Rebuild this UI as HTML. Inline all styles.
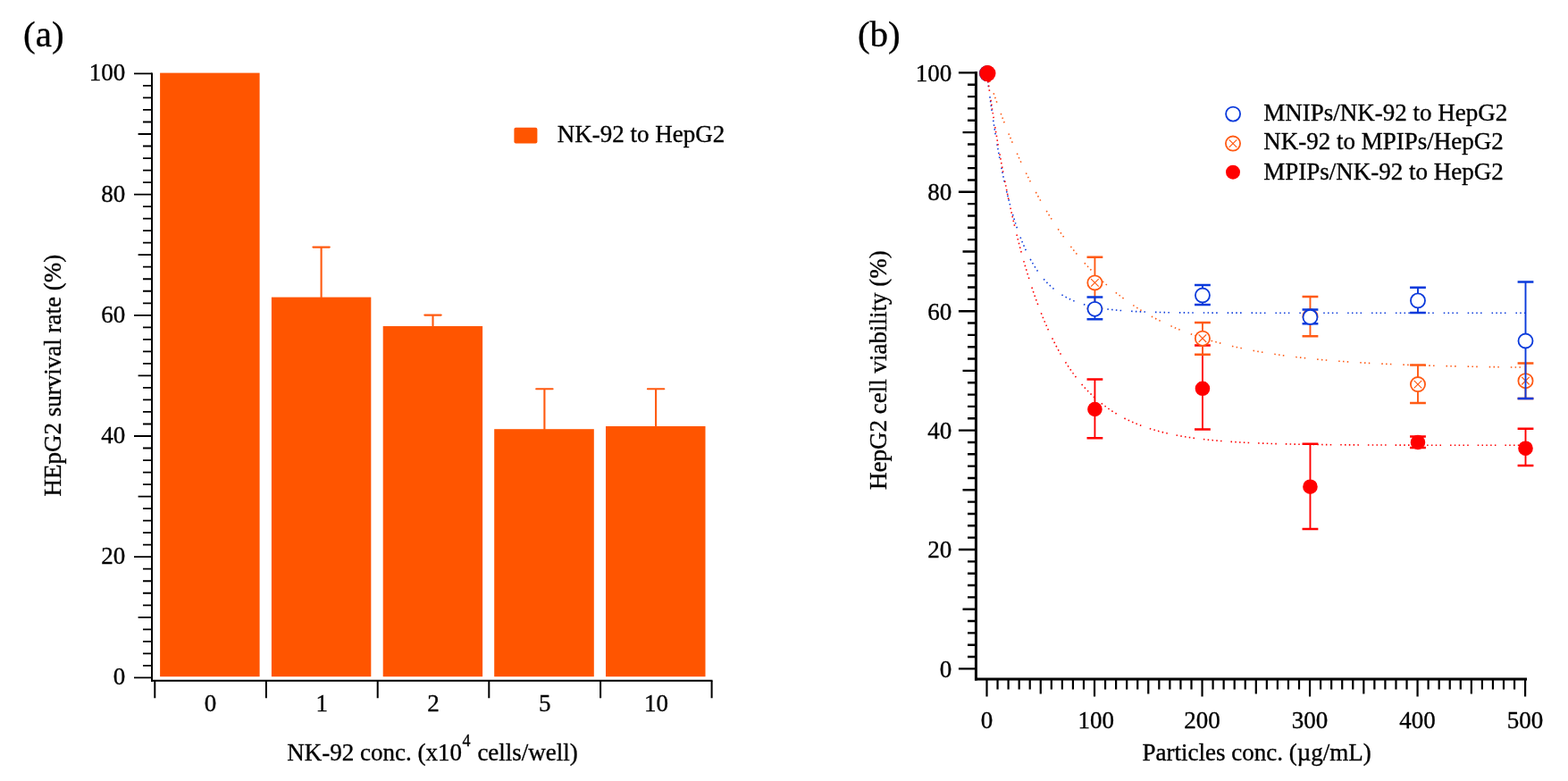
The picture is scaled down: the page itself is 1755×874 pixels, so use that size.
<!DOCTYPE html>
<html><head><meta charset="utf-8"><title>Figure</title>
<style>
html,body{margin:0;padding:0;background:#fff;}
svg{display:block;}
.t{font-family:"Liberation Serif","Times New Roman",serif;font-size:27px;fill:#000;stroke:#000;stroke-width:0.35px;}
.big{font-family:"Liberation Serif","Times New Roman",serif;font-size:41px;fill:#000;stroke:#000;stroke-width:0.35px;}
</style></head><body>
<svg width="1755" height="874" viewBox="0 0 1755 874">
<rect width="1755" height="874" fill="#fff"/>
<path d="M170 81.4V762.7" stroke="#000" stroke-width="2" fill="none"/>
<path d="M150 758.40H170 M160 744.88H170 M160 731.36H170 M160 717.84H170 M160 704.32H170 M154.6 690.80H170 M160 677.28H170 M160 663.76H170 M160 650.24H170 M160 636.72H170 M150 623.20H170 M160 609.68H170 M160 596.16H170 M160 582.64H170 M160 569.12H170 M154.6 555.60H170 M160 542.08H170 M160 528.56H170 M160 515.04H170 M160 501.52H170 M150 488.00H170 M160 474.48H170 M160 460.96H170 M160 447.44H170 M160 433.92H170 M154.6 420.40H170 M160 406.88H170 M160 393.36H170 M160 379.84H170 M160 366.32H170 M150 352.80H170 M160 339.28H170 M160 325.76H170 M160 312.24H170 M160 298.72H170 M154.6 285.20H170 M160 271.68H170 M160 258.16H170 M160 244.64H170 M160 231.12H170 M150 217.60H170 M160 204.08H170 M160 190.56H170 M160 177.04H170 M160 163.52H170 M154.6 150.00H170 M160 136.48H170 M160 122.96H170 M160 109.44H170 M160 95.92H170 M150 82.40H170" stroke="#000" stroke-width="1.8" fill="none"/>
<text x="140.2" y="766.40" text-anchor="end" class="t">0</text>
<text x="140.2" y="631.20" text-anchor="end" class="t">20</text>
<text x="140.2" y="496.00" text-anchor="end" class="t">40</text>
<text x="140.2" y="360.80" text-anchor="end" class="t">60</text>
<text x="140.2" y="225.60" text-anchor="end" class="t">80</text>
<text x="140.2" y="90.40" text-anchor="end" class="t">100</text>
<path d="M169 761.7H797.5" stroke="#000" stroke-width="2" fill="none"/>
<path d="M173.3 761.7V781.3 M297.9 761.7V781.3 M422.7 761.7V781.3 M547.3 761.7V781.3 M672.1 761.7V781.3 M796.6 761.7V781.3" stroke="#000" stroke-width="2" fill="none"/>
<text x="235.6" y="796.2" text-anchor="middle" class="t">0</text>
<text x="360.3" y="796.2" text-anchor="middle" class="t">1</text>
<text x="485.0" y="796.2" text-anchor="middle" class="t">2</text>
<text x="609.7" y="796.2" text-anchor="middle" class="t">5</text>
<text x="734.4" y="796.2" text-anchor="middle" class="t">10</text>
<rect x="179.1" y="81.6" width="111.5" height="675.6" fill="#FF5500"/>
<rect x="303.9" y="332.6" width="111.4" height="424.6" fill="#FF5500"/>
<rect x="428.7" y="365.0" width="111.4" height="392.2" fill="#FF5500"/>
<rect x="553.2" y="480.2" width="111.6" height="277.0" fill="#FF5500"/>
<rect x="678.0" y="477.0" width="111.5" height="280.2" fill="#FF5500"/>
<path d="M359.6 332.6V276.6M350.4 276.6H368.8" stroke="#FF5A10" stroke-width="2.1" stroke-linecap="round" fill="none"/>
<path d="M484.5 365.0V352.6M475.3 352.6H493.7" stroke="#FF5A10" stroke-width="2.1" stroke-linecap="round" fill="none"/>
<path d="M609.4 480.2V435.3M600.2 435.3H618.6" stroke="#FF5A10" stroke-width="2.1" stroke-linecap="round" fill="none"/>
<path d="M734.1 477.0V435.3M724.9 435.3H743.3" stroke="#FF5A10" stroke-width="2.1" stroke-linecap="round" fill="none"/>
<rect x="575.4" y="142.7" width="26" height="17.7" rx="2" fill="#FF5500"/>
<text x="623.8" y="159.2" class="t">NK-92 to HepG2</text>
<text x="26.1" y="51.7" class="big">(a)</text>
<text transform="translate(67.5 555.5) rotate(-90)" class="t">HEpG2 survival rate (%)</text>
<text x="321.2" y="850.9" class="t">NK-92 conc. (x10</text>
<text x="517.4" y="835" class="t" style="font-size:18px">4</text>
<text x="534.4" y="850.9" class="t">cells/well)</text>
<path d="M1092.4 80V761.5" stroke="#000" stroke-width="3" fill="none"/>
<path d="M1072.9 748.40H1092 M1083 735.06H1092 M1083 721.72H1092 M1083 708.38H1092 M1083 695.04H1092 M1077.5 681.70H1092 M1083 668.36H1092 M1083 655.02H1092 M1083 641.68H1092 M1083 628.34H1092 M1072.9 615.00H1092 M1083 601.66H1092 M1083 588.32H1092 M1083 574.98H1092 M1083 561.64H1092 M1077.5 548.30H1092 M1083 534.96H1092 M1083 521.62H1092 M1083 508.28H1092 M1083 494.94H1092 M1072.9 481.60H1092 M1083 468.26H1092 M1083 454.92H1092 M1083 441.58H1092 M1083 428.24H1092 M1077.5 414.90H1092 M1083 401.56H1092 M1083 388.22H1092 M1083 374.88H1092 M1083 361.54H1092 M1072.9 348.20H1092 M1083 334.86H1092 M1083 321.52H1092 M1083 308.18H1092 M1083 294.84H1092 M1077.5 281.50H1092 M1083 268.16H1092 M1083 254.82H1092 M1083 241.48H1092 M1083 228.14H1092 M1072.9 214.80H1092 M1083 201.46H1092 M1083 188.12H1092 M1083 174.78H1092 M1083 161.44H1092 M1077.5 148.10H1092 M1083 134.76H1092 M1083 121.42H1092 M1083 108.08H1092 M1083 94.74H1092 M1072.9 81.40H1092" stroke="#000" stroke-width="2.4" fill="none"/>
<text x="1065.2" y="757.70" text-anchor="end" class="t">0</text>
<text x="1065.2" y="624.30" text-anchor="end" class="t">20</text>
<text x="1065.2" y="490.90" text-anchor="end" class="t">40</text>
<text x="1065.2" y="357.50" text-anchor="end" class="t">60</text>
<text x="1065.2" y="224.10" text-anchor="end" class="t">80</text>
<text x="1065.2" y="90.70" text-anchor="end" class="t">100</text>
<path d="M1091 760.1H1709" stroke="#000" stroke-width="3" fill="none"/>
<path d="M1104.50 760V779.6 M1116.55 760V771.6 M1128.60 760V771.6 M1140.66 760V771.6 M1152.71 760V771.6 M1164.76 760V776.6 M1176.81 760V771.6 M1188.86 760V771.6 M1200.92 760V771.6 M1212.97 760V771.6 M1225.02 760V779.6 M1237.07 760V771.6 M1249.12 760V771.6 M1261.18 760V771.6 M1273.23 760V771.6 M1285.28 760V776.6 M1297.33 760V771.6 M1309.38 760V771.6 M1321.44 760V771.6 M1333.49 760V771.6 M1345.54 760V779.6 M1357.59 760V771.6 M1369.64 760V771.6 M1381.70 760V771.6 M1393.75 760V771.6 M1405.80 760V776.6 M1417.85 760V771.6 M1429.90 760V771.6 M1441.96 760V771.6 M1454.01 760V771.6 M1466.06 760V779.6 M1478.11 760V771.6 M1490.16 760V771.6 M1502.22 760V771.6 M1514.27 760V771.6 M1526.32 760V776.6 M1538.37 760V771.6 M1550.42 760V771.6 M1562.48 760V771.6 M1574.53 760V771.6 M1586.58 760V779.6 M1598.63 760V771.6 M1610.68 760V771.6 M1622.74 760V771.6 M1634.79 760V771.6 M1646.84 760V776.6 M1658.89 760V771.6 M1670.94 760V771.6 M1683.00 760V771.6 M1695.05 760V771.6 M1707.10 760V779.6" stroke="#000" stroke-width="2.2" fill="none"/>
<text x="1104.50" y="815" text-anchor="middle" class="t">0</text>
<text x="1226.82" y="815" text-anchor="middle" class="t">100</text>
<text x="1345.54" y="815" text-anchor="middle" class="t">200</text>
<text x="1466.06" y="815" text-anchor="middle" class="t">300</text>
<text x="1586.58" y="815" text-anchor="middle" class="t">400</text>
<text x="1707.10" y="815" text-anchor="middle" class="t">500</text>
<text x="1278.6" y="851.3" class="t">Particles conc. (µg/mL)</text>
<text transform="translate(992.3 547.9) rotate(-90)" class="t">HepG2 cell viability (%)</text>
<text x="959.9" y="51.7" class="big">(b)</text>
<path d="M1104.50 81.40 L1105.71 91.17 L1106.91 100.59 L1108.12 109.67 L1109.32 118.41 L1110.53 126.84 L1111.73 134.96 L1112.94 142.79 L1114.14 150.33 L1115.35 157.60 L1116.55 164.60 L1117.76 171.35 L1118.96 177.85 L1120.17 184.12 L1121.37 190.16 L1122.58 195.98 L1123.78 201.58 L1124.99 206.99 L1126.19 212.19 L1127.40 217.21 L1128.60 222.05 L1129.81 226.71 L1131.01 231.20 L1132.22 235.52 L1133.42 239.69 L1134.63 243.71 L1135.84 247.58 L1137.04 251.31 L1138.25 254.91 L1139.45 258.37 L1140.66 261.71 L1141.86 264.93 L1143.07 268.03 L1144.27 271.02 L1145.48 273.90 L1146.68 276.67 L1147.89 279.35 L1149.09 281.92 L1150.30 284.40 L1151.50 286.80 L1152.71 289.10 L1153.91 291.32 L1155.12 293.46 L1156.32 295.53 L1157.53 297.52 L1158.73 299.43 L1159.94 301.28 L1161.14 303.06 L1162.35 304.77 L1163.55 306.42 L1164.76 308.01 L1165.97 309.55 L1167.17 311.03 L1168.38 312.45 L1169.58 313.82 L1170.79 315.15 L1171.99 316.42 L1173.20 317.65 L1174.40 318.83 L1175.61 319.97 L1176.81 321.07 L1178.02 322.13 L1179.22 323.15 L1180.43 324.13 L1181.63 325.08 L1182.84 326.00 L1184.04 326.88 L1185.25 327.72 L1186.45 328.54 L1187.66 329.33 L1188.86 330.09 L1190.07 330.82 L1191.27 331.52 L1192.48 332.20 L1193.68 332.86 L1194.89 333.49 L1196.10 334.10 L1197.30 334.68 L1198.51 335.25 L1199.71 335.79 L1200.92 336.31 L1202.12 336.82 L1203.33 337.30 L1204.53 337.77 L1205.74 338.23 L1206.94 338.66 L1208.15 339.08 L1209.35 339.48 L1210.56 339.87 L1211.76 340.25 L1212.97 340.61 L1214.17 340.96 L1215.38 341.30 L1216.58 341.62 L1217.79 341.93 L1218.99 342.23 L1220.20 342.52 L1221.40 342.80 L1222.61 343.07 L1223.81 343.33 L1225.02 343.58 L1226.23 343.82 L1227.43 344.05 L1228.64 344.28 L1229.84 344.49 L1231.05 344.70 L1232.25 344.90 L1233.46 345.09 L1234.66 345.28 L1235.87 345.46 L1237.07 345.63 L1238.28 345.80 L1239.48 345.96 L1240.69 346.11 L1241.89 346.26 L1243.10 346.40 L1244.30 346.54 L1245.51 346.67 L1246.71 346.80 L1247.92 346.93 L1249.12 347.04 L1250.33 347.16 L1251.53 347.27 L1252.74 347.38 L1253.94 347.48 L1255.15 347.58 L1256.36 347.67 L1257.56 347.77 L1258.77 347.85 L1259.97 347.94 L1261.18 348.02 L1262.38 348.10 L1263.59 348.18 L1264.79 348.25 L1266.00 348.32 L1267.20 348.39 L1268.41 348.46 L1269.61 348.52 L1270.82 348.58 L1272.02 348.64 L1273.23 348.70 L1274.43 348.75 L1275.64 348.80 L1276.84 348.85 L1278.05 348.90 L1279.25 348.95 L1280.46 349.00 L1281.66 349.04 L1282.87 349.08 L1284.07 349.12 L1285.28 349.16 L1286.49 349.20 L1287.69 349.24 L1288.90 349.27 L1290.10 349.30 L1291.31 349.34 L1292.51 349.37 L1293.72 349.40 L1294.92 349.43 L1296.13 349.46 L1297.33 349.48 L1298.54 349.51 L1299.74 349.53 L1300.95 349.56 L1302.15 349.58 L1303.36 349.60 L1304.56 349.63 L1305.77 349.65 L1306.97 349.67 L1308.18 349.69 L1309.38 349.71 L1310.59 349.72 L1311.79 349.74 L1313.00 349.76 L1314.20 349.77 L1315.41 349.79 L1316.62 349.80 L1317.82 349.82 L1319.03 349.83 L1320.23 349.85 L1321.44 349.86 L1322.64 349.87 L1323.85 349.88 L1325.05 349.89 L1326.26 349.91 L1327.46 349.92 L1328.67 349.93 L1329.87 349.94 L1331.08 349.95 L1332.28 349.96 L1333.49 349.96 L1334.69 349.97 L1335.90 349.98 L1337.10 349.99 L1338.31 350.00 L1339.51 350.00 L1340.72 350.01 L1341.92 350.02 L1343.13 350.03 L1344.33 350.03 L1345.54 350.04 L1346.75 350.04 L1347.95 350.05 L1349.16 350.06 L1350.36 350.06 L1351.57 350.07 L1352.77 350.07 L1353.98 350.08 L1355.18 350.08 L1356.39 350.08 L1357.59 350.09 L1358.80 350.09 L1360.00 350.10 L1361.21 350.10 L1362.41 350.10 L1363.62 350.11 L1364.82 350.11 L1366.03 350.11 L1367.23 350.12 L1368.44 350.12 L1369.64 350.12 L1370.85 350.13 L1372.05 350.13 L1373.26 350.13 L1374.46 350.13 L1375.67 350.14 L1376.88 350.14 L1378.08 350.14 L1379.29 350.14 L1380.49 350.15 L1381.70 350.15 L1382.90 350.15 L1384.11 350.15 L1385.31 350.15 L1386.52 350.15 L1387.72 350.16 L1388.93 350.16 L1390.13 350.16 L1391.34 350.16 L1392.54 350.16 L1393.75 350.16 L1394.95 350.17 L1396.16 350.17 L1397.36 350.17 L1398.57 350.17 L1399.77 350.17 L1400.98 350.17 L1402.18 350.17 L1403.39 350.17 L1404.59 350.17 L1405.80 350.18 L1407.01 350.18 L1408.21 350.18 L1409.42 350.18 L1410.62 350.18 L1411.83 350.18 L1413.03 350.18 L1414.24 350.18 L1415.44 350.18 L1416.65 350.18 L1417.85 350.18 L1419.06 350.18 L1420.26 350.18 L1421.47 350.19 L1422.67 350.19 L1423.88 350.19 L1425.08 350.19 L1426.29 350.19 L1427.49 350.19 L1428.70 350.19 L1429.90 350.19 L1431.11 350.19 L1432.31 350.19 L1433.52 350.19 L1434.72 350.19 L1435.93 350.19 L1437.14 350.19 L1438.34 350.19 L1439.55 350.19 L1440.75 350.19 L1441.96 350.19 L1443.16 350.19 L1444.37 350.19 L1445.57 350.19 L1446.78 350.19 L1447.98 350.19 L1449.19 350.19 L1450.39 350.19 L1451.60 350.19 L1452.80 350.19 L1454.01 350.20 L1455.21 350.20 L1456.42 350.20 L1457.62 350.20 L1458.83 350.20 L1460.03 350.20 L1461.24 350.20 L1462.44 350.20 L1463.65 350.20 L1464.85 350.20 L1466.06 350.20 L1467.27 350.20 L1468.47 350.20 L1469.68 350.20 L1470.88 350.20 L1472.09 350.20 L1473.29 350.20 L1474.50 350.20 L1475.70 350.20 L1476.91 350.20 L1478.11 350.20 L1479.32 350.20 L1480.52 350.20 L1481.73 350.20 L1482.93 350.20 L1484.14 350.20 L1485.34 350.20 L1486.55 350.20 L1487.75 350.20 L1488.96 350.20 L1490.16 350.20 L1491.37 350.20 L1492.57 350.20 L1493.78 350.20 L1494.98 350.20 L1496.19 350.20 L1497.40 350.20 L1498.60 350.20 L1499.81 350.20 L1501.01 350.20 L1502.22 350.20 L1503.42 350.20 L1504.63 350.20 L1505.83 350.20 L1507.04 350.20 L1508.24 350.20 L1509.45 350.20 L1510.65 350.20 L1511.86 350.20 L1513.06 350.20 L1514.27 350.20 L1515.47 350.20 L1516.68 350.20 L1517.88 350.20 L1519.09 350.20 L1520.29 350.20 L1521.50 350.20 L1522.70 350.20 L1523.91 350.20 L1525.11 350.20 L1526.32 350.20 L1527.53 350.20 L1528.73 350.20 L1529.94 350.20 L1531.14 350.20 L1532.35 350.20 L1533.55 350.20 L1534.76 350.20 L1535.96 350.20 L1537.17 350.20 L1538.37 350.20 L1539.58 350.20 L1540.78 350.20 L1541.99 350.20 L1543.19 350.20 L1544.40 350.20 L1545.60 350.20 L1546.81 350.20 L1548.01 350.20 L1549.22 350.20 L1550.42 350.20 L1551.63 350.20 L1552.83 350.20 L1554.04 350.20 L1555.24 350.20 L1556.45 350.20 L1557.66 350.20 L1558.86 350.20 L1560.07 350.20 L1561.27 350.20 L1562.48 350.20 L1563.68 350.20 L1564.89 350.20 L1566.09 350.20 L1567.30 350.20 L1568.50 350.20 L1569.71 350.20 L1570.91 350.20 L1572.12 350.20 L1573.32 350.20 L1574.53 350.20 L1575.73 350.20 L1576.94 350.20 L1578.14 350.20 L1579.35 350.20 L1580.55 350.20 L1581.76 350.20 L1582.96 350.20 L1584.17 350.20 L1585.37 350.20 L1586.58 350.20 L1587.79 350.20 L1588.99 350.20 L1590.20 350.20 L1591.40 350.20 L1592.61 350.20 L1593.81 350.20 L1595.02 350.20 L1596.22 350.20 L1597.43 350.20 L1598.63 350.20 L1599.84 350.20 L1601.04 350.20 L1602.25 350.20 L1603.45 350.20 L1604.66 350.20 L1605.86 350.20 L1607.07 350.20 L1608.27 350.20 L1609.48 350.20 L1610.68 350.20 L1611.89 350.20 L1613.09 350.20 L1614.30 350.20 L1615.50 350.20 L1616.71 350.20 L1617.92 350.20 L1619.12 350.20 L1620.33 350.20 L1621.53 350.20 L1622.74 350.20 L1623.94 350.20 L1625.15 350.20 L1626.35 350.20 L1627.56 350.20 L1628.76 350.20 L1629.97 350.20 L1631.17 350.20 L1632.38 350.20 L1633.58 350.20 L1634.79 350.20 L1635.99 350.20 L1637.20 350.20 L1638.40 350.20 L1639.61 350.20 L1640.81 350.20 L1642.02 350.20 L1643.22 350.20 L1644.43 350.20 L1645.63 350.20 L1646.84 350.20 L1648.05 350.20 L1649.25 350.20 L1650.46 350.20 L1651.66 350.20 L1652.87 350.20 L1654.07 350.20 L1655.28 350.20 L1656.48 350.20 L1657.69 350.20 L1658.89 350.20 L1660.10 350.20 L1661.30 350.20 L1662.51 350.20 L1663.71 350.20 L1664.92 350.20 L1666.12 350.20 L1667.33 350.20 L1668.53 350.20 L1669.74 350.20 L1670.94 350.20 L1672.15 350.20 L1673.35 350.20 L1674.56 350.20 L1675.76 350.20 L1676.97 350.20 L1678.18 350.20 L1679.38 350.20 L1680.59 350.20 L1681.79 350.20 L1683.00 350.20 L1684.20 350.20 L1685.41 350.20 L1686.61 350.20 L1687.82 350.20 L1689.02 350.20 L1690.23 350.20 L1691.43 350.20 L1692.64 350.20 L1693.84 350.20 L1695.05 350.20 L1696.25 350.20 L1697.46 350.20 L1698.66 350.20 L1699.87 350.20 L1701.07 350.20 L1702.28 350.20 L1703.48 350.20 L1704.69 350.20 L1705.89 350.20 L1707.10 350.20" stroke="#0A3ADB" stroke-width="1.6" fill="none" stroke-dasharray="1.5 3.3 1.5 3.3 1.5 3.3 1.5 11"/>
<path d="M1104.50 81.40 L1105.71 85.14 L1106.91 88.83 L1108.12 92.49 L1109.32 96.10 L1110.53 99.67 L1111.73 103.20 L1112.94 106.70 L1114.14 110.15 L1115.35 113.56 L1116.55 116.94 L1117.76 120.27 L1118.96 123.57 L1120.17 126.83 L1121.37 130.06 L1122.58 133.25 L1123.78 136.40 L1124.99 139.52 L1126.19 142.60 L1127.40 145.64 L1128.60 148.66 L1129.81 151.64 L1131.01 154.58 L1132.22 157.49 L1133.42 160.37 L1134.63 163.22 L1135.84 166.03 L1137.04 168.81 L1138.25 171.56 L1139.45 174.28 L1140.66 176.97 L1141.86 179.63 L1143.07 182.26 L1144.27 184.85 L1145.48 187.42 L1146.68 189.96 L1147.89 192.48 L1149.09 194.96 L1150.30 197.41 L1151.50 199.84 L1152.71 202.24 L1153.91 204.61 L1155.12 206.96 L1156.32 209.28 L1157.53 211.57 L1158.73 213.84 L1159.94 216.08 L1161.14 218.30 L1162.35 220.49 L1163.55 222.66 L1164.76 224.80 L1165.97 226.92 L1167.17 229.01 L1168.38 231.08 L1169.58 233.13 L1170.79 235.15 L1171.99 237.15 L1173.20 239.13 L1174.40 241.09 L1175.61 243.02 L1176.81 244.93 L1178.02 246.82 L1179.22 248.69 L1180.43 250.54 L1181.63 252.37 L1182.84 254.17 L1184.04 255.96 L1185.25 257.72 L1186.45 259.47 L1187.66 261.20 L1188.86 262.90 L1190.07 264.59 L1191.27 266.26 L1192.48 267.91 L1193.68 269.54 L1194.89 271.15 L1196.10 272.74 L1197.30 274.32 L1198.51 275.88 L1199.71 277.42 L1200.92 278.94 L1202.12 280.45 L1203.33 281.94 L1204.53 283.41 L1205.74 284.87 L1206.94 286.31 L1208.15 287.73 L1209.35 289.13 L1210.56 290.53 L1211.76 291.90 L1212.97 293.26 L1214.17 294.60 L1215.38 295.93 L1216.58 297.25 L1217.79 298.55 L1218.99 299.83 L1220.20 301.10 L1221.40 302.36 L1222.61 303.60 L1223.81 304.83 L1225.02 306.04 L1226.23 307.24 L1227.43 308.43 L1228.64 309.60 L1229.84 310.76 L1231.05 311.91 L1232.25 313.04 L1233.46 314.16 L1234.66 315.27 L1235.87 316.36 L1237.07 317.45 L1238.28 318.52 L1239.48 319.58 L1240.69 320.62 L1241.89 321.66 L1243.10 322.68 L1244.30 323.69 L1245.51 324.69 L1246.71 325.68 L1247.92 326.66 L1249.12 327.63 L1250.33 328.58 L1251.53 329.53 L1252.74 330.46 L1253.94 331.39 L1255.15 332.30 L1256.36 333.20 L1257.56 334.10 L1258.77 334.98 L1259.97 335.85 L1261.18 336.72 L1262.38 337.57 L1263.59 338.41 L1264.79 339.25 L1266.00 340.07 L1267.20 340.89 L1268.41 341.69 L1269.61 342.49 L1270.82 343.28 L1272.02 344.06 L1273.23 344.83 L1274.43 345.59 L1275.64 346.34 L1276.84 347.09 L1278.05 347.82 L1279.25 348.55 L1280.46 349.27 L1281.66 349.98 L1282.87 350.69 L1284.07 351.38 L1285.28 352.07 L1286.49 352.75 L1287.69 353.42 L1288.90 354.08 L1290.10 354.74 L1291.31 355.39 L1292.51 356.03 L1293.72 356.67 L1294.92 357.30 L1296.13 357.92 L1297.33 358.53 L1298.54 359.14 L1299.74 359.74 L1300.95 360.33 L1302.15 360.92 L1303.36 361.50 L1304.56 362.07 L1305.77 362.64 L1306.97 363.20 L1308.18 363.75 L1309.38 364.30 L1310.59 364.84 L1311.79 365.38 L1313.00 365.91 L1314.20 366.43 L1315.41 366.95 L1316.62 367.46 L1317.82 367.96 L1319.03 368.46 L1320.23 368.96 L1321.44 369.45 L1322.64 369.93 L1323.85 370.41 L1325.05 370.88 L1326.26 371.35 L1327.46 371.81 L1328.67 372.27 L1329.87 372.72 L1331.08 373.17 L1332.28 373.61 L1333.49 374.04 L1334.69 374.48 L1335.90 374.90 L1337.10 375.32 L1338.31 375.74 L1339.51 376.15 L1340.72 376.56 L1341.92 376.96 L1343.13 377.36 L1344.33 377.76 L1345.54 378.15 L1346.75 378.53 L1347.95 378.91 L1349.16 379.29 L1350.36 379.66 L1351.57 380.03 L1352.77 380.39 L1353.98 380.75 L1355.18 381.11 L1356.39 381.46 L1357.59 381.81 L1358.80 382.15 L1360.00 382.49 L1361.21 382.83 L1362.41 383.16 L1363.62 383.49 L1364.82 383.81 L1366.03 384.13 L1367.23 384.45 L1368.44 384.77 L1369.64 385.08 L1370.85 385.38 L1372.05 385.69 L1373.26 385.99 L1374.46 386.28 L1375.67 386.58 L1376.88 386.87 L1378.08 387.15 L1379.29 387.44 L1380.49 387.72 L1381.70 387.99 L1382.90 388.27 L1384.11 388.54 L1385.31 388.81 L1386.52 389.07 L1387.72 389.33 L1388.93 389.59 L1390.13 389.85 L1391.34 390.10 L1392.54 390.35 L1393.75 390.60 L1394.95 390.84 L1396.16 391.08 L1397.36 391.32 L1398.57 391.56 L1399.77 391.79 L1400.98 392.02 L1402.18 392.25 L1403.39 392.48 L1404.59 392.70 L1405.80 392.92 L1407.01 393.14 L1408.21 393.35 L1409.42 393.57 L1410.62 393.78 L1411.83 393.99 L1413.03 394.19 L1414.24 394.40 L1415.44 394.60 L1416.65 394.80 L1417.85 394.99 L1419.06 395.19 L1420.26 395.38 L1421.47 395.57 L1422.67 395.76 L1423.88 395.95 L1425.08 396.13 L1426.29 396.31 L1427.49 396.49 L1428.70 396.67 L1429.90 396.85 L1431.11 397.02 L1432.31 397.19 L1433.52 397.36 L1434.72 397.53 L1435.93 397.70 L1437.14 397.86 L1438.34 398.02 L1439.55 398.18 L1440.75 398.34 L1441.96 398.50 L1443.16 398.65 L1444.37 398.81 L1445.57 398.96 L1446.78 399.11 L1447.98 399.26 L1449.19 399.40 L1450.39 399.55 L1451.60 399.69 L1452.80 399.83 L1454.01 399.97 L1455.21 400.11 L1456.42 400.25 L1457.62 400.39 L1458.83 400.52 L1460.03 400.65 L1461.24 400.78 L1462.44 400.91 L1463.65 401.04 L1464.85 401.17 L1466.06 401.29 L1467.27 401.41 L1468.47 401.54 L1469.68 401.66 L1470.88 401.78 L1472.09 401.90 L1473.29 402.01 L1474.50 402.13 L1475.70 402.24 L1476.91 402.35 L1478.11 402.47 L1479.32 402.58 L1480.52 402.69 L1481.73 402.79 L1482.93 402.90 L1484.14 403.01 L1485.34 403.11 L1486.55 403.21 L1487.75 403.31 L1488.96 403.42 L1490.16 403.52 L1491.37 403.61 L1492.57 403.71 L1493.78 403.81 L1494.98 403.90 L1496.19 404.00 L1497.40 404.09 L1498.60 404.18 L1499.81 404.27 L1501.01 404.36 L1502.22 404.45 L1503.42 404.54 L1504.63 404.63 L1505.83 404.71 L1507.04 404.80 L1508.24 404.88 L1509.45 404.96 L1510.65 405.05 L1511.86 405.13 L1513.06 405.21 L1514.27 405.29 L1515.47 405.37 L1516.68 405.44 L1517.88 405.52 L1519.09 405.60 L1520.29 405.67 L1521.50 405.75 L1522.70 405.82 L1523.91 405.89 L1525.11 405.96 L1526.32 406.03 L1527.53 406.10 L1528.73 406.17 L1529.94 406.24 L1531.14 406.31 L1532.35 406.38 L1533.55 406.44 L1534.76 406.51 L1535.96 406.57 L1537.17 406.64 L1538.37 406.70 L1539.58 406.76 L1540.78 406.82 L1541.99 406.88 L1543.19 406.95 L1544.40 407.00 L1545.60 407.06 L1546.81 407.12 L1548.01 407.18 L1549.22 407.24 L1550.42 407.29 L1551.63 407.35 L1552.83 407.40 L1554.04 407.46 L1555.24 407.51 L1556.45 407.57 L1557.66 407.62 L1558.86 407.67 L1560.07 407.72 L1561.27 407.77 L1562.48 407.82 L1563.68 407.87 L1564.89 407.92 L1566.09 407.97 L1567.30 408.02 L1568.50 408.07 L1569.71 408.11 L1570.91 408.16 L1572.12 408.21 L1573.32 408.25 L1574.53 408.30 L1575.73 408.34 L1576.94 408.39 L1578.14 408.43 L1579.35 408.47 L1580.55 408.51 L1581.76 408.56 L1582.96 408.60 L1584.17 408.64 L1585.37 408.68 L1586.58 408.72 L1587.79 408.76 L1588.99 408.80 L1590.20 408.84 L1591.40 408.88 L1592.61 408.91 L1593.81 408.95 L1595.02 408.99 L1596.22 409.03 L1597.43 409.06 L1598.63 409.10 L1599.84 409.13 L1601.04 409.17 L1602.25 409.20 L1603.45 409.24 L1604.66 409.27 L1605.86 409.30 L1607.07 409.34 L1608.27 409.37 L1609.48 409.40 L1610.68 409.43 L1611.89 409.47 L1613.09 409.50 L1614.30 409.53 L1615.50 409.56 L1616.71 409.59 L1617.92 409.62 L1619.12 409.65 L1620.33 409.68 L1621.53 409.71 L1622.74 409.73 L1623.94 409.76 L1625.15 409.79 L1626.35 409.82 L1627.56 409.85 L1628.76 409.87 L1629.97 409.90 L1631.17 409.93 L1632.38 409.95 L1633.58 409.98 L1634.79 410.00 L1635.99 410.03 L1637.20 410.05 L1638.40 410.08 L1639.61 410.10 L1640.81 410.13 L1642.02 410.15 L1643.22 410.17 L1644.43 410.20 L1645.63 410.22 L1646.84 410.24 L1648.05 410.26 L1649.25 410.29 L1650.46 410.31 L1651.66 410.33 L1652.87 410.35 L1654.07 410.37 L1655.28 410.39 L1656.48 410.42 L1657.69 410.44 L1658.89 410.46 L1660.10 410.48 L1661.30 410.50 L1662.51 410.52 L1663.71 410.53 L1664.92 410.55 L1666.12 410.57 L1667.33 410.59 L1668.53 410.61 L1669.74 410.63 L1670.94 410.65 L1672.15 410.66 L1673.35 410.68 L1674.56 410.70 L1675.76 410.72 L1676.97 410.73 L1678.18 410.75 L1679.38 410.77 L1680.59 410.78 L1681.79 410.80 L1683.00 410.82 L1684.20 410.83 L1685.41 410.85 L1686.61 410.86 L1687.82 410.88 L1689.02 410.90 L1690.23 410.91 L1691.43 410.93 L1692.64 410.94 L1693.84 410.95 L1695.05 410.97 L1696.25 410.98 L1697.46 411.00 L1698.66 411.01 L1699.87 411.03 L1701.07 411.04 L1702.28 411.05 L1703.48 411.07 L1704.69 411.08 L1705.89 411.09 L1707.10 411.10" stroke="#FF5A14" stroke-width="1.6" fill="none" stroke-dasharray="1.5 3.3 1.5 3.3 1.5 13"/>
<path d="M1104.50 81.40 L1105.71 89.87 L1106.91 98.17 L1108.12 106.31 L1109.32 114.27 L1110.53 122.08 L1111.73 129.72 L1112.94 137.21 L1114.14 144.55 L1115.35 151.74 L1116.55 158.78 L1117.76 165.68 L1118.96 172.44 L1120.17 179.07 L1121.37 185.55 L1122.58 191.91 L1123.78 198.14 L1124.99 204.24 L1126.19 210.21 L1127.40 216.07 L1128.60 221.80 L1129.81 227.42 L1131.01 232.93 L1132.22 238.32 L1133.42 243.60 L1134.63 248.78 L1135.84 253.85 L1137.04 258.82 L1138.25 263.69 L1139.45 268.45 L1140.66 273.12 L1141.86 277.70 L1143.07 282.18 L1144.27 286.58 L1145.48 290.88 L1146.68 295.09 L1147.89 299.22 L1149.09 303.27 L1150.30 307.23 L1151.50 311.11 L1152.71 314.92 L1153.91 318.65 L1155.12 322.30 L1156.32 325.87 L1157.53 329.38 L1158.73 332.81 L1159.94 336.17 L1161.14 339.47 L1162.35 342.69 L1163.55 345.86 L1164.76 348.95 L1165.97 351.99 L1167.17 354.96 L1168.38 357.88 L1169.58 360.73 L1170.79 363.52 L1171.99 366.26 L1173.20 368.95 L1174.40 371.58 L1175.61 374.15 L1176.81 376.67 L1178.02 379.14 L1179.22 381.57 L1180.43 383.94 L1181.63 386.26 L1182.84 388.54 L1184.04 390.77 L1185.25 392.95 L1186.45 395.09 L1187.66 397.19 L1188.86 399.25 L1190.07 401.26 L1191.27 403.23 L1192.48 405.16 L1193.68 407.05 L1194.89 408.91 L1196.10 410.72 L1197.30 412.50 L1198.51 414.25 L1199.71 415.96 L1200.92 417.63 L1202.12 419.27 L1203.33 420.87 L1204.53 422.45 L1205.74 423.99 L1206.94 425.50 L1208.15 426.98 L1209.35 428.43 L1210.56 429.85 L1211.76 431.24 L1212.97 432.60 L1214.17 433.93 L1215.38 435.24 L1216.58 436.52 L1217.79 437.78 L1218.99 439.01 L1220.20 440.21 L1221.40 441.39 L1222.61 442.55 L1223.81 443.68 L1225.02 444.79 L1226.23 445.88 L1227.43 446.94 L1228.64 447.99 L1229.84 449.01 L1231.05 450.01 L1232.25 450.99 L1233.46 451.95 L1234.66 452.89 L1235.87 453.81 L1237.07 454.72 L1238.28 455.60 L1239.48 456.47 L1240.69 457.32 L1241.89 458.15 L1243.10 458.97 L1244.30 459.77 L1245.51 460.55 L1246.71 461.32 L1247.92 462.07 L1249.12 462.80 L1250.33 463.52 L1251.53 464.23 L1252.74 464.92 L1253.94 465.60 L1255.15 466.26 L1256.36 466.92 L1257.56 467.55 L1258.77 468.18 L1259.97 468.79 L1261.18 469.39 L1262.38 469.98 L1263.59 470.55 L1264.79 471.11 L1266.00 471.67 L1267.20 472.21 L1268.41 472.74 L1269.61 473.26 L1270.82 473.76 L1272.02 474.26 L1273.23 474.75 L1274.43 475.23 L1275.64 475.70 L1276.84 476.16 L1278.05 476.61 L1279.25 477.05 L1280.46 477.48 L1281.66 477.90 L1282.87 478.31 L1284.07 478.72 L1285.28 479.12 L1286.49 479.51 L1287.69 479.89 L1288.90 480.26 L1290.10 480.63 L1291.31 480.99 L1292.51 481.34 L1293.72 481.68 L1294.92 482.02 L1296.13 482.35 L1297.33 482.67 L1298.54 482.99 L1299.74 483.30 L1300.95 483.61 L1302.15 483.90 L1303.36 484.20 L1304.56 484.48 L1305.77 484.76 L1306.97 485.04 L1308.18 485.31 L1309.38 485.57 L1310.59 485.83 L1311.79 486.08 L1313.00 486.33 L1314.20 486.57 L1315.41 486.81 L1316.62 487.04 L1317.82 487.27 L1319.03 487.49 L1320.23 487.71 L1321.44 487.93 L1322.64 488.14 L1323.85 488.34 L1325.05 488.55 L1326.26 488.74 L1327.46 488.94 L1328.67 489.13 L1329.87 489.31 L1331.08 489.50 L1332.28 489.67 L1333.49 489.85 L1334.69 490.02 L1335.90 490.19 L1337.10 490.35 L1338.31 490.51 L1339.51 490.67 L1340.72 490.83 L1341.92 490.98 L1343.13 491.13 L1344.33 491.27 L1345.54 491.41 L1346.75 491.55 L1347.95 491.69 L1349.16 491.82 L1350.36 491.95 L1351.57 492.08 L1352.77 492.21 L1353.98 492.33 L1355.18 492.45 L1356.39 492.57 L1357.59 492.69 L1358.80 492.80 L1360.00 492.91 L1361.21 493.02 L1362.41 493.13 L1363.62 493.23 L1364.82 493.33 L1366.03 493.43 L1367.23 493.53 L1368.44 493.63 L1369.64 493.72 L1370.85 493.82 L1372.05 493.91 L1373.26 494.00 L1374.46 494.08 L1375.67 494.17 L1376.88 494.25 L1378.08 494.33 L1379.29 494.41 L1380.49 494.49 L1381.70 494.57 L1382.90 494.64 L1384.11 494.72 L1385.31 494.79 L1386.52 494.86 L1387.72 494.93 L1388.93 495.00 L1390.13 495.07 L1391.34 495.13 L1392.54 495.19 L1393.75 495.26 L1394.95 495.32 L1396.16 495.38 L1397.36 495.44 L1398.57 495.49 L1399.77 495.55 L1400.98 495.61 L1402.18 495.66 L1403.39 495.71 L1404.59 495.77 L1405.80 495.82 L1407.01 495.87 L1408.21 495.92 L1409.42 495.96 L1410.62 496.01 L1411.83 496.06 L1413.03 496.10 L1414.24 496.15 L1415.44 496.19 L1416.65 496.23 L1417.85 496.27 L1419.06 496.31 L1420.26 496.35 L1421.47 496.39 L1422.67 496.43 L1423.88 496.47 L1425.08 496.51 L1426.29 496.54 L1427.49 496.58 L1428.70 496.61 L1429.90 496.64 L1431.11 496.68 L1432.31 496.71 L1433.52 496.74 L1434.72 496.77 L1435.93 496.80 L1437.14 496.83 L1438.34 496.86 L1439.55 496.89 L1440.75 496.92 L1441.96 496.95 L1443.16 496.97 L1444.37 497.00 L1445.57 497.03 L1446.78 497.05 L1447.98 497.08 L1449.19 497.10 L1450.39 497.13 L1451.60 497.15 L1452.80 497.17 L1454.01 497.19 L1455.21 497.22 L1456.42 497.24 L1457.62 497.26 L1458.83 497.28 L1460.03 497.30 L1461.24 497.32 L1462.44 497.34 L1463.65 497.36 L1464.85 497.38 L1466.06 497.39 L1467.27 497.41 L1468.47 497.43 L1469.68 497.45 L1470.88 497.46 L1472.09 497.48 L1473.29 497.50 L1474.50 497.51 L1475.70 497.53 L1476.91 497.54 L1478.11 497.56 L1479.32 497.57 L1480.52 497.59 L1481.73 497.60 L1482.93 497.61 L1484.14 497.63 L1485.34 497.64 L1486.55 497.65 L1487.75 497.67 L1488.96 497.68 L1490.16 497.69 L1491.37 497.70 L1492.57 497.71 L1493.78 497.73 L1494.98 497.74 L1496.19 497.75 L1497.40 497.76 L1498.60 497.77 L1499.81 497.78 L1501.01 497.79 L1502.22 497.80 L1503.42 497.81 L1504.63 497.82 L1505.83 497.83 L1507.04 497.84 L1508.24 497.85 L1509.45 497.85 L1510.65 497.86 L1511.86 497.87 L1513.06 497.88 L1514.27 497.89 L1515.47 497.90 L1516.68 497.90 L1517.88 497.91 L1519.09 497.92 L1520.29 497.93 L1521.50 497.93 L1522.70 497.94 L1523.91 497.95 L1525.11 497.95 L1526.32 497.96 L1527.53 497.97 L1528.73 497.97 L1529.94 497.98 L1531.14 497.98 L1532.35 497.99 L1533.55 498.00 L1534.76 498.00 L1535.96 498.01 L1537.17 498.01 L1538.37 498.02 L1539.58 498.02 L1540.78 498.03 L1541.99 498.03 L1543.19 498.04 L1544.40 498.04 L1545.60 498.05 L1546.81 498.05 L1548.01 498.06 L1549.22 498.06 L1550.42 498.07 L1551.63 498.07 L1552.83 498.07 L1554.04 498.08 L1555.24 498.08 L1556.45 498.09 L1557.66 498.09 L1558.86 498.09 L1560.07 498.10 L1561.27 498.10 L1562.48 498.10 L1563.68 498.11 L1564.89 498.11 L1566.09 498.11 L1567.30 498.12 L1568.50 498.12 L1569.71 498.12 L1570.91 498.13 L1572.12 498.13 L1573.32 498.13 L1574.53 498.14 L1575.73 498.14 L1576.94 498.14 L1578.14 498.14 L1579.35 498.15 L1580.55 498.15 L1581.76 498.15 L1582.96 498.15 L1584.17 498.16 L1585.37 498.16 L1586.58 498.16 L1587.79 498.16 L1588.99 498.17 L1590.20 498.17 L1591.40 498.17 L1592.61 498.17 L1593.81 498.18 L1595.02 498.18 L1596.22 498.18 L1597.43 498.18 L1598.63 498.18 L1599.84 498.18 L1601.04 498.19 L1602.25 498.19 L1603.45 498.19 L1604.66 498.19 L1605.86 498.19 L1607.07 498.20 L1608.27 498.20 L1609.48 498.20 L1610.68 498.20 L1611.89 498.20 L1613.09 498.20 L1614.30 498.20 L1615.50 498.21 L1616.71 498.21 L1617.92 498.21 L1619.12 498.21 L1620.33 498.21 L1621.53 498.21 L1622.74 498.21 L1623.94 498.22 L1625.15 498.22 L1626.35 498.22 L1627.56 498.22 L1628.76 498.22 L1629.97 498.22 L1631.17 498.22 L1632.38 498.22 L1633.58 498.22 L1634.79 498.23 L1635.99 498.23 L1637.20 498.23 L1638.40 498.23 L1639.61 498.23 L1640.81 498.23 L1642.02 498.23 L1643.22 498.23 L1644.43 498.23 L1645.63 498.23 L1646.84 498.23 L1648.05 498.24 L1649.25 498.24 L1650.46 498.24 L1651.66 498.24 L1652.87 498.24 L1654.07 498.24 L1655.28 498.24 L1656.48 498.24 L1657.69 498.24 L1658.89 498.24 L1660.10 498.24 L1661.30 498.24 L1662.51 498.24 L1663.71 498.24 L1664.92 498.25 L1666.12 498.25 L1667.33 498.25 L1668.53 498.25 L1669.74 498.25 L1670.94 498.25 L1672.15 498.25 L1673.35 498.25 L1674.56 498.25 L1675.76 498.25 L1676.97 498.25 L1678.18 498.25 L1679.38 498.25 L1680.59 498.25 L1681.79 498.25 L1683.00 498.25 L1684.20 498.25 L1685.41 498.25 L1686.61 498.25 L1687.82 498.25 L1689.02 498.26 L1690.23 498.26 L1691.43 498.26 L1692.64 498.26 L1693.84 498.26 L1695.05 498.26 L1696.25 498.26 L1697.46 498.26 L1698.66 498.26 L1699.87 498.26 L1701.07 498.26 L1702.28 498.26 L1703.48 498.26 L1704.69 498.26 L1705.89 498.26 L1707.10 498.26" stroke="#FF0000" stroke-width="1.6" fill="none" stroke-dasharray="1.5 3.3 1.5 3.3 1.5 3.3 1.5 3.3 1.5 10"/>
<path d="M1225.42 424.5V490.3" stroke="#FF0000" stroke-width="1.9" fill="none"/><path d="M1216.52 424.5H1234.32M1216.52 490.3H1234.32" stroke="#FF0000" stroke-width="2.5" fill="none"/>
<path d="M1345.94 386.5V480.4" stroke="#FF0000" stroke-width="1.9" fill="none"/><path d="M1337.04 386.5H1354.84M1337.04 480.4H1354.84" stroke="#FF0000" stroke-width="2.5" fill="none"/>
<path d="M1466.46 496.7V591.9" stroke="#FF0000" stroke-width="1.9" fill="none"/><path d="M1457.56 496.7H1475.36M1457.56 591.9H1475.36" stroke="#FF0000" stroke-width="2.5" fill="none"/>
<path d="M1586.98 488.5V501" stroke="#FF0000" stroke-width="1.9" fill="none"/><path d="M1578.08 488.5H1595.88M1578.08 501H1595.88" stroke="#FF0000" stroke-width="2.5" fill="none"/>
<path d="M1707.50 479.7V520.9" stroke="#FF0000" stroke-width="1.9" fill="none"/><path d="M1698.60 479.7H1716.40M1698.60 520.9H1716.40" stroke="#FF0000" stroke-width="2.5" fill="none"/>
<path d="M1225.42 287.7V345.1" stroke="#FF5A14" stroke-width="1.9" fill="none"/><path d="M1216.52 287.7H1234.32M1216.52 345.1H1234.32" stroke="#FF5A14" stroke-width="2.5" fill="none"/>
<path d="M1345.94 360.9V396.7" stroke="#FF5A14" stroke-width="1.9" fill="none"/><path d="M1337.04 360.9H1354.84M1337.04 396.7H1354.84" stroke="#FF5A14" stroke-width="2.5" fill="none"/>
<path d="M1466.46 331.9V376.2" stroke="#FF5A14" stroke-width="1.9" fill="none"/><path d="M1457.56 331.9H1475.36M1457.56 376.2H1475.36" stroke="#FF5A14" stroke-width="2.5" fill="none"/>
<path d="M1586.98 408.6V450.9" stroke="#FF5A14" stroke-width="1.9" fill="none"/><path d="M1578.08 408.6H1595.88M1578.08 450.9H1595.88" stroke="#FF5A14" stroke-width="2.5" fill="none"/>
<path d="M1707.50 406.5V446" stroke="#FF5A14" stroke-width="1.9" fill="none"/><path d="M1698.60 406.5H1716.40M1698.60 446H1716.40" stroke="#FF5A14" stroke-width="2.5" fill="none"/>
<circle cx="1104.90" cy="82.1" r="8.1" fill="#fff" stroke="#FF5A14" stroke-width="1.8"/><path d="M1100.60 77.80L1109.20 86.40M1100.60 86.40L1109.20 77.80" stroke="#FF5A14" stroke-width="1.2"/>
<circle cx="1225.42" cy="316.4" r="8.1" fill="#fff" stroke="#FF5A14" stroke-width="1.8"/><path d="M1221.12 312.10L1229.72 320.70M1221.12 320.70L1229.72 312.10" stroke="#FF5A14" stroke-width="1.2"/>
<circle cx="1345.94" cy="378.7" r="8.1" fill="#fff" stroke="#FF5A14" stroke-width="1.8"/><path d="M1341.64 374.40L1350.24 383.00M1341.64 383.00L1350.24 374.40" stroke="#FF5A14" stroke-width="1.2"/>
<circle cx="1466.46" cy="354" r="8.1" fill="#fff" stroke="#FF5A14" stroke-width="1.8"/><path d="M1462.16 349.70L1470.76 358.30M1462.16 358.30L1470.76 349.70" stroke="#FF5A14" stroke-width="1.2"/>
<circle cx="1586.98" cy="430.1" r="8.1" fill="#fff" stroke="#FF5A14" stroke-width="1.8"/><path d="M1582.68 425.80L1591.28 434.40M1582.68 434.40L1591.28 425.80" stroke="#FF5A14" stroke-width="1.2"/>
<circle cx="1707.50" cy="426.2" r="8.1" fill="#fff" stroke="#FF5A14" stroke-width="1.8"/><path d="M1703.20 421.90L1711.80 430.50M1703.20 430.50L1711.80 421.90" stroke="#FF5A14" stroke-width="1.2"/>
<circle cx="1104.90" cy="82.1" r="8" fill="#fff" stroke="#0A3ADB" stroke-width="1.8"/>
<path d="M1225.42 332.4V357.3" stroke="#0A3ADB" stroke-width="1.9" fill="none"/><path d="M1216.52 332.4H1234.32M1216.52 357.3H1234.32" stroke="#0A3ADB" stroke-width="2.5" fill="none"/>
<circle cx="1225.42" cy="345.8" r="8" fill="#fff" stroke="#0A3ADB" stroke-width="1.8"/>
<path d="M1345.94 319.1V340.9" stroke="#0A3ADB" stroke-width="1.9" fill="none"/><path d="M1337.04 319.1H1354.84M1337.04 340.9H1354.84" stroke="#0A3ADB" stroke-width="2.5" fill="none"/>
<circle cx="1345.94" cy="330.5" r="8" fill="#fff" stroke="#0A3ADB" stroke-width="1.8"/>
<path d="M1466.46 346.5V362.3" stroke="#0A3ADB" stroke-width="1.9" fill="none"/><path d="M1457.56 346.5H1475.36M1457.56 362.3H1475.36" stroke="#0A3ADB" stroke-width="2.5" fill="none"/>
<circle cx="1466.46" cy="354.9" r="8" fill="#fff" stroke="#0A3ADB" stroke-width="1.8"/>
<path d="M1586.98 321.7V349.9" stroke="#0A3ADB" stroke-width="1.9" fill="none"/><path d="M1578.08 321.7H1595.88M1578.08 349.9H1595.88" stroke="#0A3ADB" stroke-width="2.5" fill="none"/>
<circle cx="1586.98" cy="336.4" r="8" fill="#fff" stroke="#0A3ADB" stroke-width="1.8"/>
<path d="M1707.50 315.6V446" stroke="#0A3ADB" stroke-width="1.9" fill="none"/><path d="M1698.60 315.6H1716.40M1698.60 446H1716.40" stroke="#0A3ADB" stroke-width="2.5" fill="none"/>
<circle cx="1707.50" cy="381.5" r="8" fill="#fff" stroke="#0A3ADB" stroke-width="1.8"/>
<circle cx="1105.40" cy="82.1" r="9.1" fill="#FF0000"/>
<circle cx="1225.42" cy="458" r="8.3" fill="#FF0000"/>
<circle cx="1345.94" cy="434.8" r="8.3" fill="#FF0000"/>
<circle cx="1466.46" cy="544.7" r="8.3" fill="#FF0000"/>
<circle cx="1586.98" cy="495" r="8.3" fill="#FF0000"/>
<circle cx="1707.50" cy="501.7" r="8.3" fill="#FF0000"/>
<circle cx="1380.10" cy="127.6" r="8" fill="#fff" stroke="#0A3ADB" stroke-width="1.8"/>
<circle cx="1380.00" cy="160.6" r="8.1" fill="#fff" stroke="#FF5A14" stroke-width="1.8"/><path d="M1375.70 156.30L1384.30 164.90M1375.70 164.90L1384.30 156.30" stroke="#FF5A14" stroke-width="1.2"/>
<circle cx="1380.00" cy="192.7" r="8" fill="#FF0000"/>
<text x="1414.2" y="134.5" class="t">MNIPs/NK-92 to HepG2</text>
<text x="1414.2" y="166.9" class="t">NK-92 to MPIPs/HepG2</text>
<text x="1414.2" y="201.2" class="t">MPIPs/NK-92 to HepG2</text>
</svg>
</body></html>
